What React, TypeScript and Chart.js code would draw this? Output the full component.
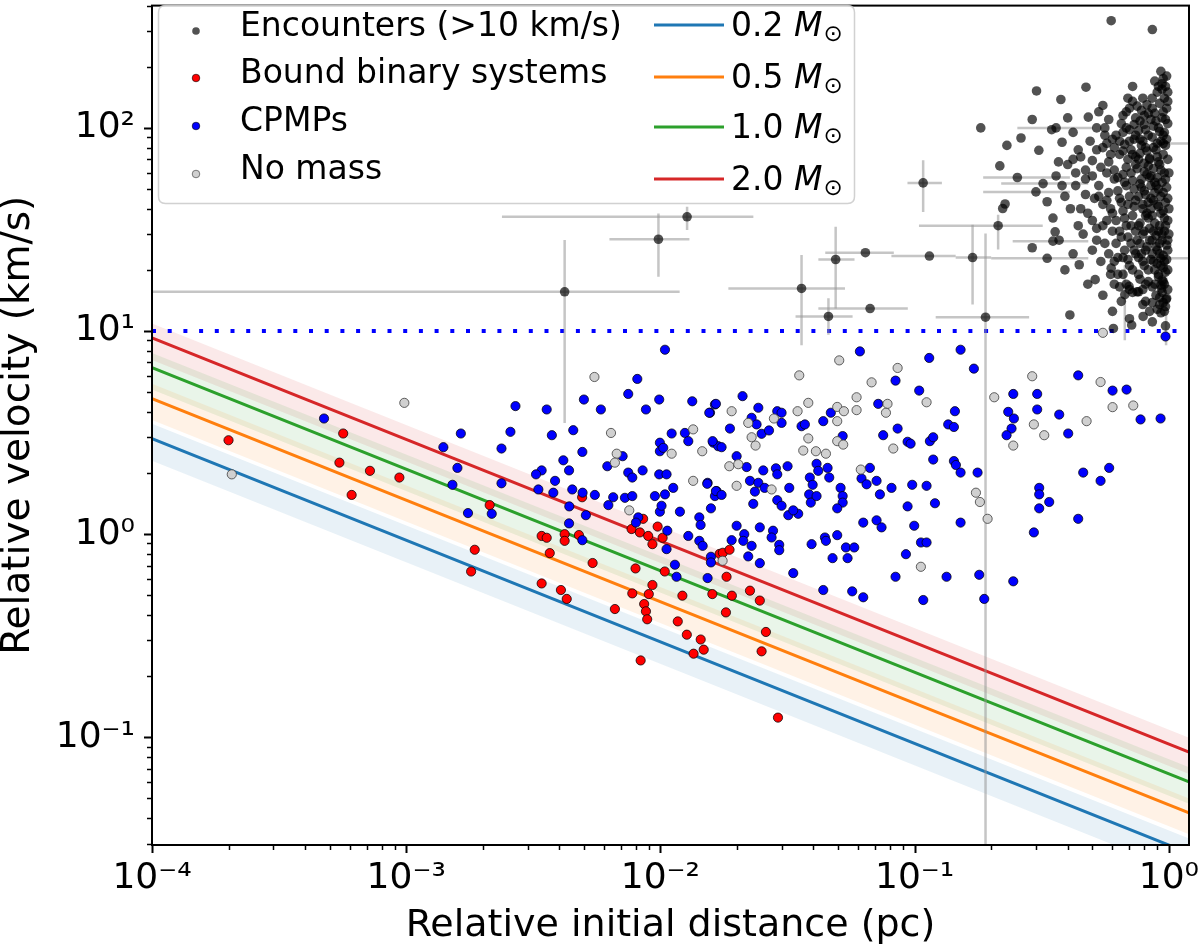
import React, { useEffect, useRef } from "react";
import { Chart, registerables } from "chart.js";

Chart.register(...registerables);

const FONT = '"DejaVu Sans", "Liberation Sans", sans-serif';

// ---------- axis ticks ----------
const xTickValues = [1e-4, 1e-3, 1e-2, 1e-1, 1];
const xTickLabels = ["10⁻⁴", "10⁻³", "10⁻²", "10⁻¹", "10⁰"];
const yTickValues = [0.1, 1, 10, 100];
const yTickLabels = ["10⁻¹", "10⁰", "10¹", "10²"];
const xRange = [1e-4, 1.2];
const yRange = [0.0295, 400];
const xTitle = "Relative initial distance (pc)";
const yTitle = "Relative velocity (km/s)";

// ---------- series labels ----------
const encounterLabel = "Encounters (>10 km/s)";
const boundLabel = "Bound binary systems";
const cpmpLabel = "CPMPs";
const noMassLabel = "No mass";

// ---------- mass curves (read at x = 1e-4 and x = 1.2) ----------
const curveX = [1e-4, 1.2];
const massLabels = ["0.2", "0.5", "1.0", "2.0"];
const massColors = ["#1f77b4", "#ff7f0e", "#2ca02c", "#d62728"];
const curve02 = [2.95, 0.0269];
const curve05 = [4.65, 0.0425];
const curve10 = [6.6, 0.0603];
const curve20 = [9.25, 0.0845];
const band02Upper = [3.5, 0.0318];
const band02Lower = [2.3, 0.021];
const band05Upper = [5.5, 0.05];
const band05Lower = [3.65, 0.0333];
const band10Upper = [7.8, 0.0712];
const band10Lower = [5.15, 0.0471];
const band20Upper = [10.9, 0.0995];
const band20Lower = [7.2, 0.066];
const thresholdX = [1e-4, 1.2];
const thresholdY = [10, 10];

// ---------- encounters with error bars: [x, y, xlo, xhi, ylo, yhi] ----------
const encounterErrors: (number | null)[][] = [
  [0.0042, 15.6, 5e-5, 0.0119, 3.53, 28.1],
  [0.00982, 28.3, 0.0063, 0.013, 18.5, 37.9],
  [0.01273, 36.5, 0.00238, 0.0232, 31.4, 40.9],
  [0.0359, 16.2, 0.0185, 0.0532, 8.5, 23.7],
  [0.0489, 22.5, 0.0418, 0.058, 12.9, 32.6],
  [0.064, 24.3, 0.0445, 0.0828, null, null],
  [0.0458, 11.8, 0.034, 0.057, 9.6, 14.5],
  [0.0668, 12.9, 0.0418, 0.094, null, null],
  [0.108, 53.6, 0.0937, 0.128, 38.6, 69.3],
  [0.1143, 23.4, 0.081, 0.145, null, null],
  [0.169, 23.0, 0.145, 0.2, 13.5, 33.4],
  [0.213, 33.0, 0.104, 0.319, 25.2, 37.4],
  [0.19, 11.7, 0.121, 0.282, 0.01, 30.2],
  [0.2535, 57, 0.186, 0.408, null, null],
  [0.32, 53.2, 0.219, 0.482, null, null],
  [0.3, 48.4, 0.186, 0.408, null, null],
  [0.35, 27.7, 0.243, 0.482, null, null],
  [0.332, 22.8, 0.2, 0.482, null, null],
  [0.36, 100, 0.2535, 0.502, null, null],
  [0.95, 83.8, 0.85, 1.5, null, null],
  [0.93, 22.8, 0.76, 1.4, null, null],
  [0.671, 15.1, null, null, 9, 21],
  [0.975, 14.3, null, null, 8.5, 20],
];

// ---------- encounters without error bars ----------
const encountersIsolated: number[][] = [
  [0.182, 100], [0.2268, 42.2], [0.222, 40.1], [0.2306, 82], [0.262, 89.2], [0.2163, 65],
  [0.29, 110], [0.3016, 152], [0.376, 138], [0.472, 158.6], [0.593, 337], [0.861, 305],
  [0.308, 77.6], [0.346, 98], [0.368, 68], [0.332, 43.3], [0.357, 30.8], [0.29, 25.7],
  [0.408, 12.0], [0.444, 21.2], [0.513, 17.9], [0.593, 20.4], [0.605, 10.3], [0.714, 10.7],
  [0.792, 11.8], [0.861, 11.1], [0.935, 16.2], [0.76, 15.6], [0.697, 16.6], [0.482, 113], [0.55, 129],
];

const encountersCluster: number[][] = [
  [0.93, 190], [0.95, 175], [0.97, 160], [0.9, 150], [0.96, 140], [0.92, 132], [0.98, 125], [0.88, 118],
  [0.94, 112], [0.99, 105], [0.91, 100], [0.96, 95], [0.86, 90], [0.93, 86], [0.97, 82], [0.89, 78],
  [0.95, 74], [0.99, 70], [0.92, 66], [0.87, 63], [0.96, 60], [0.9, 57], [0.94, 54], [0.98, 51],
  [0.88, 48], [0.93, 46], [0.97, 43], [0.91, 41], [0.95, 39], [0.86, 37], [0.99, 35], [0.92, 33],
  [0.96, 31], [0.89, 29.5], [0.94, 28], [0.98, 26.5], [0.9, 25], [0.95, 23.5], [0.87, 22], [0.93, 21],
  [0.97, 19.5], [0.91, 18.5], [0.96, 17], [0.94, 15.5], [0.98, 14.5], [0.92, 13.5], [0.96, 12.5], [0.99, 20],
  [0.85, 45], [0.84, 70], [0.99, 150], [0.97, 110], [0.95, 92], [0.9, 84], [1.0, 60], [1.0, 40],
  [1.0, 30], [0.99, 25], [0.95, 17.5], [0.93, 12.3], [0.97, 10.6],
  [0.82, 130], [0.78, 122], [0.85, 110], [0.8, 104], [0.76, 97], [0.83, 92], [0.79, 86], [0.81, 80],
  [0.77, 75], [0.84, 71], [0.8, 67], [0.75, 63], [0.82, 59], [0.78, 56], [0.85, 52], [0.8, 49],
  [0.76, 46], [0.83, 43], [0.79, 40], [0.81, 37], [0.77, 34], [0.84, 32], [0.79, 30], [0.75, 28],
  [0.82, 26], [0.78, 24], [0.85, 22.5], [0.8, 21], [0.76, 19], [0.83, 17.5], [0.79, 16], [0.81, 14],
  [0.84, 12.5], [0.77, 88], [0.8, 115], [0.86, 140], [0.83, 65], [0.78, 51], [0.82, 38], [0.76, 23],
  [0.72, 135], [0.68, 120], [0.74, 112], [0.65, 105], [0.7, 98], [0.62, 92], [0.73, 88], [0.67, 83],
  [0.71, 78], [0.64, 74], [0.69, 70], [0.74, 66], [0.61, 62], [0.66, 59], [0.72, 55], [0.68, 52],
  [0.63, 49], [0.7, 46], [0.65, 43], [0.73, 41], [0.6, 38], [0.67, 36], [0.71, 33], [0.64, 31],
  [0.69, 29], [0.62, 27], [0.73, 25], [0.66, 23], [0.7, 21], [0.63, 19], [0.68, 17], [0.72, 15.5],
  [0.65, 14], [0.7, 11.5], [0.6, 12.5], [0.74, 72], [0.61, 80], [0.66, 95], [0.69, 140], [0.72, 160],
  [0.58, 110], [0.52, 100], [0.56, 92], [0.49, 86], [0.55, 80], [0.59, 74], [0.5, 69], [0.54, 64],
  [0.57, 60], [0.47, 56], [0.53, 52], [0.58, 48], [0.51, 45], [0.55, 42], [0.48, 38], [0.57, 35],
  [0.52, 32], [0.46, 30], [0.56, 27], [0.5, 25], [0.54, 22], [0.59, 19], [0.48, 17], [0.55, 15],
  [0.53, 120], [0.57, 84], [0.45, 72], [0.5, 58], [0.59, 40], [0.47, 47],
  [0.42, 95], [0.38, 85], [0.44, 78], [0.4, 66], [0.36, 58], [0.43, 52], [0.39, 46], [0.41, 40],
  [0.35, 36], [0.44, 33], [0.37, 28], [0.42, 24], [0.39, 20], [0.43, 60], [0.4, 112],
  [0.88, 170], [0.91, 160], [0.94, 155], [0.86, 125], [0.89, 108], [0.92, 96], [0.87, 80], [0.9, 72],
  [0.93, 62], [0.85, 58], [0.88, 54], [0.91, 50], [0.95, 48], [0.87, 44], [0.9, 42], [0.93, 38],
  [0.96, 36], [0.88, 34], [0.91, 31], [0.94, 30], [0.86, 28], [0.89, 26], [0.92, 24], [0.96, 22],
  [0.88, 20], [0.91, 19], [0.94, 17.8], [0.86, 16.5], [0.89, 15], [0.92, 14.6], [0.97, 13.2], [0.9, 12.8],
  [0.79, 140], [0.75, 128], [0.83, 118], [0.77, 108], [0.81, 98], [0.74, 92], [0.78, 82], [0.82, 77],
  [0.76, 70], [0.8, 61], [0.84, 57], [0.77, 53], [0.81, 47], [0.74, 44], [0.79, 42], [0.83, 36],
  [0.76, 33], [0.8, 31], [0.84, 28], [0.77, 27], [0.81, 25], [0.74, 24], [0.79, 22], [0.83, 20],
  [0.77, 18], [0.81, 17], [0.75, 15.6], [0.79, 13.5],
  [0.7, 125], [0.66, 115], [0.73, 104], [0.68, 100], [0.64, 86], [0.7, 86], [0.66, 77], [0.72, 74],
  [0.68, 64], [0.63, 57], [0.71, 60], [0.67, 54], [0.73, 50], [0.64, 45], [0.69, 42], [0.66, 39],
  [0.72, 37], [0.62, 35], [0.68, 33], [0.74, 31], [0.65, 29], [0.71, 27], [0.67, 25], [0.63, 23],
  [0.69, 22.5], [0.72, 20], [0.66, 19], [0.61, 17], [0.7, 16], [0.64, 16.5],
  [0.56, 100], [0.6, 88], [0.52, 78], [0.58, 68], [0.61, 56], [0.53, 46], [0.57, 44], [0.6, 31],
  [0.52, 28], [0.58, 24], [0.61, 22], [0.5, 35], [0.55, 33], [0.45, 40], [0.47, 62], [0.42, 70], [0.38, 52],
  [0.98, 180], [0.94, 165], [0.99, 135], [0.95, 120], [0.87, 102], [0.98, 88], [0.91, 68], [0.97, 56],
  [0.89, 52], [0.99, 45], [0.85, 40], [0.97, 33], [0.87, 31], [0.99, 28], [0.92, 27], [0.86, 24],
  [0.98, 22.5], [0.9, 21.5], [0.95, 20.5], [0.88, 17], [0.99, 16], [0.93, 16.8], [0.86, 13.8], [0.95, 13.8],
];

// ---------- bound binary systems ----------
const boundBinaries: number[][] = [
  [2.0e-4, 2.9], [5.65e-4, 3.13], [5.46e-4, 2.25], [7.2e-4, 2.05], [9.4e-4, 1.9], [6.1e-4, 1.56],
  [2.13e-3, 1.39], [1.86e-3, 0.838], [1.8e-3, 0.655], [3.41e-3, 0.98], [3.57e-3, 0.96], [3.67e-3, 0.807],
  [4.2e-3, 1.0], [4.2e-3, 0.927], [4.78e-3, 0.99], [4.92e-3, 1.52], [3.41e-3, 0.572], [4.06e-3, 0.531],
  [4.28e-3, 0.48], [5.41e-3, 0.721], [6.62e-3, 0.428], [7.98e-3, 0.678], [7.7e-3, 1.06], [8.3e-3, 1.02],
  [8.95e-3, 0.98], [9.3e-3, 0.893], [9.75e-3, 1.09], [8.55e-3, 1.19], [1.02e-2, 0.96], [1.04e-2, 0.655],
  [9.3e-3, 0.562], [9.0e-3, 0.507], [7.75e-3, 0.511], [8.63e-3, 0.453], [8.77e-3, 0.417], [8.87e-3, 0.381],
  [8.36e-3, 0.239], [1.17e-2, 0.372], [1.27e-2, 0.32], [1.44e-2, 0.303], [1.48e-2, 0.27], [1.35e-2, 0.258],
  [1.22e-2, 0.498], [1.6e-2, 0.507], [1.71e-2, 0.8], [1.76e-2, 0.81], [1.87e-2, 0.838], [1.82e-2, 0.617],
  [1.91e-2, 0.498], [2.25e-2, 0.527], [2.46e-2, 0.471], [1.81e-2, 0.412], [0.026, 0.33], [0.025, 0.265],
  [0.029, 0.125],
];

// ---------- common proper motion pairs ----------
const cpmps: number[][] = [
  [4.75e-4, 3.71],
  [0.01042, 8.09], [8.11e-3, 5.81], [7.47e-3, 4.9], [9.89e-3, 4.6], [8.77e-3, 4.11], [5.83e-3, 4.11],
  [5.0e-3, 4.6], [0.01334, 4.51], [0.01567, 3.96], [0.01638, 4.35], [2.69e-3, 4.27], [3.57e-3, 4.11],
  [1.64e-3, 3.13], [2.57e-3, 3.19], [3.74e-3, 3.07], [4.54e-3, 3.25], [0.01107, 3.13], [0.01248, 3.15],
  [0.01287, 2.87], [9.95e-3, 2.82], [9.95e-3, 2.56], [0.01614, 2.82], [0.01688, 2.71], [2.37e-3, 2.64],
  [1.4e-3, 2.68], [4.93e-3, 2.54], [7.1e-3, 2.42], [4.15e-3, 2.31], [4.37e-3, 2.06], [6.18e-3, 2.16],
  [1.59e-3, 2.12], [3.41e-3, 2.06], [3.24e-3, 1.97], [7.47e-3, 2.01], [8.51e-3, 2.06], [9.89e-3, 1.97],
  [0.01057, 1.97], [7.75e-3, 1.9], [3.85e-3, 1.83], [1.52e-3, 1.75], [2.37e-3, 1.78], [3.31e-3, 1.66],
  [3.79e-3, 1.6], [4.5e-3, 1.66], [4.94e-3, 1.6], [5.52e-3, 1.56], [6.52e-3, 1.52], [7.25e-3, 1.51],
  [7.75e-3, 1.54], [9.51e-3, 1.54], [0.01042, 1.57], [0.01123, 1.69], [0.01533, 1.79], [0.01663, 1.63],
  [6.24e-3, 1.39], [4.38e-3, 1.37], [9.95e-3, 1.29], [0.0101, 1.38], [0.01193, 1.29], [0.0158, 1.34],
  [5.09e-3, 1.24], [1.75e-3, 1.27], [2.17e-3, 1.26], [8.18e-3, 1.21], [8.01e-3, 1.14], [4.37e-3, 1.13],
  [0.01422, 1.21], [0.01439, 1.11], [0.01064, 1.04], [0.01287, 0.98], [0.01422, 0.927], [0.01466, 0.876],
  [4.93e-3, 0.934], [0.01057, 0.844], [0.0114, 0.707], [0.01157, 0.617], [0.01533, 0.608], [0.0158, 0.774],
  [0.0158, 0.726], [0.01638, 1.54], [0.01026, 2.66],
  [0.0609, 7.94], [0.1141, 7.37], [0.1516, 8.09], [0.171, 6.53], [0.0841, 5.7], [0.1042, 5.09],
  [0.02104, 4.78], [0.01653, 4.38], [0.01556, 3.96], [0.02427, 4.19], [0.02881, 4.03], [0.02996, 3.96],
  [0.02996, 3.53], [0.02284, 3.74], [0.02389, 3.47], [0.01877, 3.31], [0.025, 3.12], [0.02673, 3.24],
  [0.0359, 3.4], [0.037, 3.47], [0.0437, 3.6], [0.0468, 3.96], [0.0719, 4.38], [0.0752, 3.07],
  [0.0857, 3.31], [0.0938, 2.85], [0.0964, 2.79], [0.1148, 2.87], [0.1183, 3.0], [0.144, 4.03],
  [0.1355, 3.47], [0.1427, 3.37], [0.1183, 2.33], [0.1427, 2.29], [0.1453, 2.19], [0.1516, 2.01],
  [0.1768, 2.01], [0.0521, 3.04], [0.01604, 2.87], [0.0174, 2.68], [0.01994, 2.42], [0.02183, 2.14],
  [0.02538, 2.06], [0.02846, 2.11], [0.02881, 1.97], [0.03163, 2.16], [0.04113, 2.22], [0.04176, 2.05],
  [0.04545, 2.12], [0.0387, 1.9], [0.0397, 1.75], [0.0225, 1.83], [0.02427, 1.79], [0.02353, 1.62],
  [0.0257, 1.69], [0.01528, 1.77], [0.01653, 1.63], [0.0174, 1.56], [0.02318, 1.41], [0.03212, 1.69],
  [0.02881, 1.47], [0.02996, 1.38], [0.03184, 1.24], [0.03483, 1.26], [0.0333, 1.31], [0.03846, 1.57],
  [0.03904, 1.43], [0.04113, 1.54], [0.04614, 1.9], [0.05113, 1.69], [0.0521, 1.54], [0.0521, 1.43],
  [0.04959, 1.34], [0.06668, 2.12], [0.0618, 1.88], [0.06471, 1.76], [0.07083, 1.83], [0.073, 1.57],
  [0.0811, 1.69], [0.0978, 1.75], [0.1114, 1.73], [0.0938, 1.37], [0.1202, 1.42], [0.06277, 1.14],
  [0.07083, 1.17], [0.0741, 1.08], [0.0996, 1.1], [0.1516, 1.14], [0.01994, 1.1], [0.0246, 1.08],
  [0.02773, 1.04], [0.02737, 0.963], [0.02137, 1.0], [0.02118, 0.927], [0.02284, 0.876], [0.01906, 0.934],
  [0.02933, 0.886], [0.02933, 0.834], [0.02215, 0.777], [0.0246, 0.72], [0.03932, 0.893], [0.04436, 0.963],
  [0.04477, 0.927], [0.04959, 0.989], [0.05365, 0.86], [0.05786, 0.86], [0.04754, 0.762], [0.05447, 0.762],
  [0.1059, 0.91], [0.1114, 0.91], [0.0924, 0.797], [0.0333, 0.643], [0.0841, 0.617], [0.1335, 0.617],
  [0.1795, 0.631], [0.0437, 0.531], [0.0568, 0.523], [0.06277, 0.489], [0.1081, 0.474], [0.1878, 0.48],
  [0.2443, 0.586], [0.2443, 4.9], [0.3034, 4.9], [0.3034, 4.11], [0.2334, 4.0], [0.2457, 3.71],
  [0.2405, 3.31], [0.2299, 3.07], [0.4399, 6.05], [0.3704, 3.88], [0.4018, 3.13], [0.6005, 5.09],
  [0.6817, 5.15], [0.7738, 3.67], [0.9275, 3.71], [0.4603, 2.01], [0.5823, 2.12], [0.5387, 1.83],
  [0.309, 1.69], [0.309, 1.57], [0.3383, 1.44], [0.309, 1.34], [0.4399, 1.19], [0.2944, 1.02],
  [0.97, 9.4],
];

// ---------- objects without mass ----------
const noMass: number[][] = [
  [2.06e-4, 1.97], [9.83e-4, 4.43], [5.5e-3, 5.94], [6.39e-3, 3.15], [6.73e-3, 2.49], [6.62e-3, 2.25],
  [0.01107, 2.49], [0.01345, 3.28], [0.0146, 2.56], [0.01345, 1.83], [7.54e-3, 1.31],
  [0.0505, 7.17], [0.03516, 6.05], [0.0857, 6.58], [0.0677, 5.59], [0.0591, 4.72], [0.03816, 4.43],
  [0.04959, 4.23], [0.05268, 4.03], [0.0591, 4.08], [0.0782, 4.38], [0.0771, 3.96], [0.1114, 4.46],
  [0.01906, 4.03], [0.02795, 3.71], [0.02215, 3.53], [0.03463, 4.03], [0.04959, 3.6], [0.02284, 3.0],
  [0.02367, 2.73], [0.03816, 2.96], [0.03646, 2.58], [0.04089, 2.56], [0.04477, 2.49], [0.04959, 2.87],
  [0.05236, 2.76], [0.0824, 2.64], [0.01866, 2.16], [0.02024, 2.21], [0.0614, 2.08], [0.01994, 1.73],
  [0.02737, 1.66], [0.1742, 1.6], [0.1806, 1.44], [0.1936, 1.19], [0.1058, 0.691], [0.01756, 0.74],
  [0.2056, 4.72], [0.29, 5.99], [0.2944, 3.47], [0.3234, 3.07], [0.2443, 2.73], [0.4746, 3.6],
  [0.5387, 5.61], [0.6005, 4.22], [0.7243, 4.3], [0.55, 9.8],
];

// ---------- helpers ----------
const toXY = (arr: number[][]) => arr.map(([x, y]) => ({ x, y }));
const pair = (ys: number[]) => curveX.map((x, i) => ({ x, y: ys[i] }));
const alpha = (hex: string, a: number) => {
  const r = parseInt(hex.slice(1, 3), 16);
  const g = parseInt(hex.slice(3, 5), 16);
  const b = parseInt(hex.slice(5, 7), 16);
  return `rgba(${r},${g},${b},${a})`;
};
const THRESH = "__threshold";

const errorBarPlugin = {
  id: "errorBars",
  afterDatasetDraw(chart: any, args: any) {
    const ds = chart.data.datasets[args.index];
    if (ds.label !== THRESH) return;
    const { ctx, chartArea: a } = chart;
    const xs = chart.scales.x;
    const ys = chart.scales.y;
    ctx.save();
    ctx.beginPath();
    ctx.rect(a.left, a.top, a.right - a.left, a.bottom - a.top);
    ctx.clip();
    ctx.strokeStyle = "rgba(150,150,150,0.55)";
    ctx.lineWidth = 2.5;
    for (const r of encounterErrors) {
      const [x, y, xlo, xhi, ylo, yhi] = r;
      const cx = xs.getPixelForValue(x);
      const cy = ys.getPixelForValue(y);
      if (xlo != null && xhi != null) {
        ctx.beginPath();
        ctx.moveTo(xs.getPixelForValue(xlo), cy);
        ctx.lineTo(xs.getPixelForValue(xhi), cy);
        ctx.stroke();
      }
      if (ylo != null && yhi != null) {
        ctx.beginPath();
        ctx.moveTo(cx, ys.getPixelForValue(ylo));
        ctx.lineTo(cx, ys.getPixelForValue(yhi));
        ctx.stroke();
      }
    }
    ctx.restore();
  },
};

const frameTicksPlugin = {
  id: "frameTicks",
  afterDraw(chart: any) {
    const { ctx, chartArea: a } = chart;
    const xs = chart.scales.x;
    const ys = chart.scales.y;
    ctx.save();
    ctx.strokeStyle = "#000";
    const decadesX = [-5, -4, -3, -2, -1, 0];
    const decadesY = [-3, -2, -1, 0, 1, 2];
    const mult = [1, 2, 3, 4, 5, 6, 7, 8, 9];
    for (const e of decadesX)
      for (const k of mult) {
        const v = k * Math.pow(10, e);
        if (v < xs.min * 0.9999 || v > xs.max) continue;
        const p = Math.round(xs.getPixelForValue(v)) + 0.5;
        const major = k === 1;
        ctx.lineWidth = major ? 2 : 1.5;
        ctx.beginPath();
        ctx.moveTo(p, a.bottom);
        ctx.lineTo(p, a.bottom + (major ? 8 : 5));
        ctx.stroke();
      }
    for (const e of decadesY)
      for (const k of mult) {
        const v = k * Math.pow(10, e);
        if (v < ys.min || v > ys.max) continue;
        const p = Math.round(ys.getPixelForValue(v)) + 0.5;
        const major = k === 1;
        ctx.lineWidth = major ? 2 : 1.5;
        ctx.beginPath();
        ctx.moveTo(a.left, p);
        ctx.lineTo(a.left - (major ? 8 : 5), p);
        ctx.stroke();
      }
    ctx.lineWidth = 2;
    ctx.strokeRect(a.left, a.top, a.right - a.left, a.bottom - a.top);
    ctx.restore();
  },
};

const legendPlugin = {
  id: "customLegend",
  afterDraw(chart: any) {
    const ctx = chart.ctx as CanvasRenderingContext2D;
    ctx.save();
    const bx = 158.5, by = 5.5, bw = 696, bh = 198, r = 7;
    ctx.beginPath();
    ctx.moveTo(bx + r, by);
    ctx.lineTo(bx + bw - r, by);
    ctx.quadraticCurveTo(bx + bw, by, bx + bw, by + r);
    ctx.lineTo(bx + bw, by + bh - r);
    ctx.quadraticCurveTo(bx + bw, by + bh, bx + bw - r, by + bh);
    ctx.lineTo(bx + r, by + bh);
    ctx.quadraticCurveTo(bx, by + bh, bx, by + bh - r);
    ctx.lineTo(bx, by + r);
    ctx.quadraticCurveTo(bx, by, bx + r, by);
    ctx.closePath();
    ctx.fillStyle = "rgba(255,255,255,0.8)";
    ctx.fill();
    ctx.strokeStyle = "rgba(204,204,204,0.9)";
    ctx.lineWidth = 1.5;
    ctx.stroke();

    const scatterSets = chart.data.datasets.filter((d: any) => d.legendColumn === 0);
    const rowsL = [31, 78, 126, 174];
    scatterSets.forEach((d: any, i: number) => {
      const y = rowsL[i];
      ctx.beginPath();
      ctx.arc(196, y, 3.8, 0, Math.PI * 2);
      ctx.fillStyle = d.backgroundColor;
      ctx.fill();
      if (d.borderWidth > 0) {
        ctx.lineWidth = 0.8;
        ctx.strokeStyle = d.borderColor;
        ctx.stroke();
      }
      ctx.fillStyle = "#000";
      ctx.font = `33px ${FONT}`;
      ctx.textBaseline = "middle";
      ctx.textAlign = "left";
      ctx.fillText(d.label, 240, y - 4);
    });

    const rowsR = [25, 77, 127, 179];
    massLabels.forEach((m, i) => {
      const y = rowsR[i];
      ctx.strokeStyle = massColors[i];
      ctx.lineWidth = 3;
      ctx.beginPath();
      ctx.moveTo(654, y);
      ctx.lineTo(724, y);
      ctx.stroke();
      ctx.fillStyle = "#000";
      ctx.textBaseline = "middle";
      ctx.textAlign = "left";
      let x = 731;
      ctx.font = `33px ${FONT}`;
      const t1 = m + " ";
      ctx.fillText(t1, x, y + 2);
      x += ctx.measureText(t1).width;
      ctx.font = `italic 33px ${FONT}`;
      ctx.fillText("M", x, y + 2);
      x += ctx.measureText("M").width + 1;
      ctx.font = `23px ${FONT}`;
      ctx.fillText("⊙", x, y + 10);
    });
    ctx.restore();
  },
};

function buildDatasets() {
  const curves = [curve02, curve05, curve10, curve20];
  const uppers = [band02Upper, band05Upper, band10Upper, band20Upper];
  const lowers = [band02Lower, band05Lower, band10Lower, band20Lower];
  const sets: any[] = [];
  curves.forEach((_, i) => {
    sets.push({
      type: "line",
      label: `band-upper-${i}`,
      data: pair(uppers[i]),
      borderWidth: 0,
      pointRadius: 0,
      fill: false,
      order: 30,
    });
    sets.push({
      type: "line",
      label: `band-lower-${i}`,
      data: pair(lowers[i]),
      borderWidth: 0,
      pointRadius: 0,
      fill: "-1",
      backgroundColor: alpha(massColors[i], 0.1),
      order: 30,
    });
  });
  curves.forEach((c, i) => {
    sets.push({
      type: "line",
      label: `${massLabels[i]} M☉`,
      data: pair(c),
      borderColor: massColors[i],
      borderWidth: 3,
      pointRadius: 0,
      fill: false,
      order: 20,
    });
  });
  sets.push({
    type: "line",
    label: THRESH,
    data: thresholdX.map((x, i) => ({ x, y: thresholdY[i] })),
    borderColor: "#0000ff",
    borderWidth: 4,
    borderDash: [4, 11.7],
    borderCapStyle: "butt",
    pointRadius: 0,
    fill: false,
    order: 15,
  });
  sets.push({
    type: "scatter",
    label: encounterLabel,
    legendColumn: 0,
    data: toXY([
      ...encountersCluster,
      ...encountersIsolated,
      ...encounterErrors.map((r) => [r[0] as number, r[1] as number]),
    ]),
    backgroundColor: "rgba(0,0,0,0.68)",
    borderColor: "rgba(0,0,0,0)",
    borderWidth: 0,
    pointRadius: 4.8,
    order: 5,
  });
  sets.push({
    type: "scatter",
    label: boundLabel,
    legendColumn: 0,
    data: toXY(boundBinaries),
    backgroundColor: "#ff0000",
    borderColor: "rgba(0,0,0,0.75)",
    borderWidth: 1,
    pointRadius: 4.6,
    order: 4,
  });
  sets.push({
    type: "scatter",
    label: cpmpLabel,
    legendColumn: 0,
    data: toXY(cpmps),
    backgroundColor: "#0000ff",
    borderColor: "rgba(0,0,0,0.75)",
    borderWidth: 1,
    pointRadius: 4.6,
    order: 3,
  });
  sets.push({
    type: "scatter",
    label: noMassLabel,
    legendColumn: 0,
    data: toXY(noMass),
    backgroundColor: "#d0d0d0",
    borderColor: "rgba(60,60,60,0.8)",
    borderWidth: 1,
    pointRadius: 4.6,
    order: 2,
  });
  return sets;
}

const tickLabelFor = (values: number[], labels: string[]) => (v: any) => {
  const i = values.findIndex((t) => Math.abs(Math.log10(t) - Math.log10(Number(v))) < 1e-6);
  return i >= 0 ? labels[i] : "";
};

export default function App() {
  const ref = useRef<HTMLCanvasElement>(null);
  useEffect(() => {
    const canvas = ref.current;
    if (!canvas) return;
    const chart = new Chart(canvas, {
      type: "scatter",
      data: { datasets: buildDatasets() },
      options: {
        animation: false,
        responsive: false,
        devicePixelRatio: 1,
        events: [],
        layout: { padding: { left: 0, right: 11, top: 3, bottom: 0 } },
        plugins: {
          legend: { display: false },
          tooltip: { enabled: false },
        },
        scales: {
          x: {
            type: "logarithmic",
            min: xRange[0],
            max: xRange[1],
            grid: { display: false, drawTicks: false },
            border: { display: false },
            afterBuildTicks: (s: any) => {
              s.ticks = xTickValues.map((v) => ({ value: v }));
            },
            afterFit: (s: any) => {
              s.height = 102;
              s.paddingLeft = 0;
              s.paddingRight = 0;
              s.paddingTop = 0;
              s.paddingBottom = 0;
            },
            ticks: {
              autoSkip: false,
              maxRotation: 0,
              padding: 12,
              color: "#000",
              font: { family: FONT, size: 36, lineHeight: 1.2 },
              callback: tickLabelFor(xTickValues, xTickLabels),
            },
            title: {
              display: true,
              text: xTitle,
              color: "#000",
              padding: { top: 0, bottom: 0 },
              font: { family: FONT, size: 38, lineHeight: 1.1 },
            },
          },
          y: {
            type: "logarithmic",
            min: yRange[0],
            max: yRange[1],
            grid: { display: false, drawTicks: false },
            border: { display: false },
            afterBuildTicks: (s: any) => {
              s.ticks = yTickValues.map((v) => ({ value: v }));
            },
            afterFit: (s: any) => {
              s.width = 152;
              s.paddingLeft = 0;
              s.paddingRight = 0;
              s.paddingTop = 0;
              s.paddingBottom = 0;
            },
            ticks: {
              autoSkip: false,
              padding: 17,
              color: "#000",
              font: { family: FONT, size: 36 },
              callback: tickLabelFor(yTickValues, yTickLabels),
            },
            title: {
              display: true,
              text: yTitle,
              color: "#000",
              padding: { top: 0, bottom: 0 },
              font: { family: FONT, size: 39, lineHeight: 0.95 },
            },
          },
        },
      } as any,
      plugins: [errorBarPlugin, frameTicksPlugin, legendPlugin],
    });
    return () => chart.destroy();
  }, []);
  return (
    <div style={{ position: "fixed", left: 0, top: 0, width: 1200, height: 947, background: "#fff" }}>
      <canvas ref={ref} width={1200} height={947} style={{ width: 1200, height: 947, display: "block" }} />
    </div>
  );
}
